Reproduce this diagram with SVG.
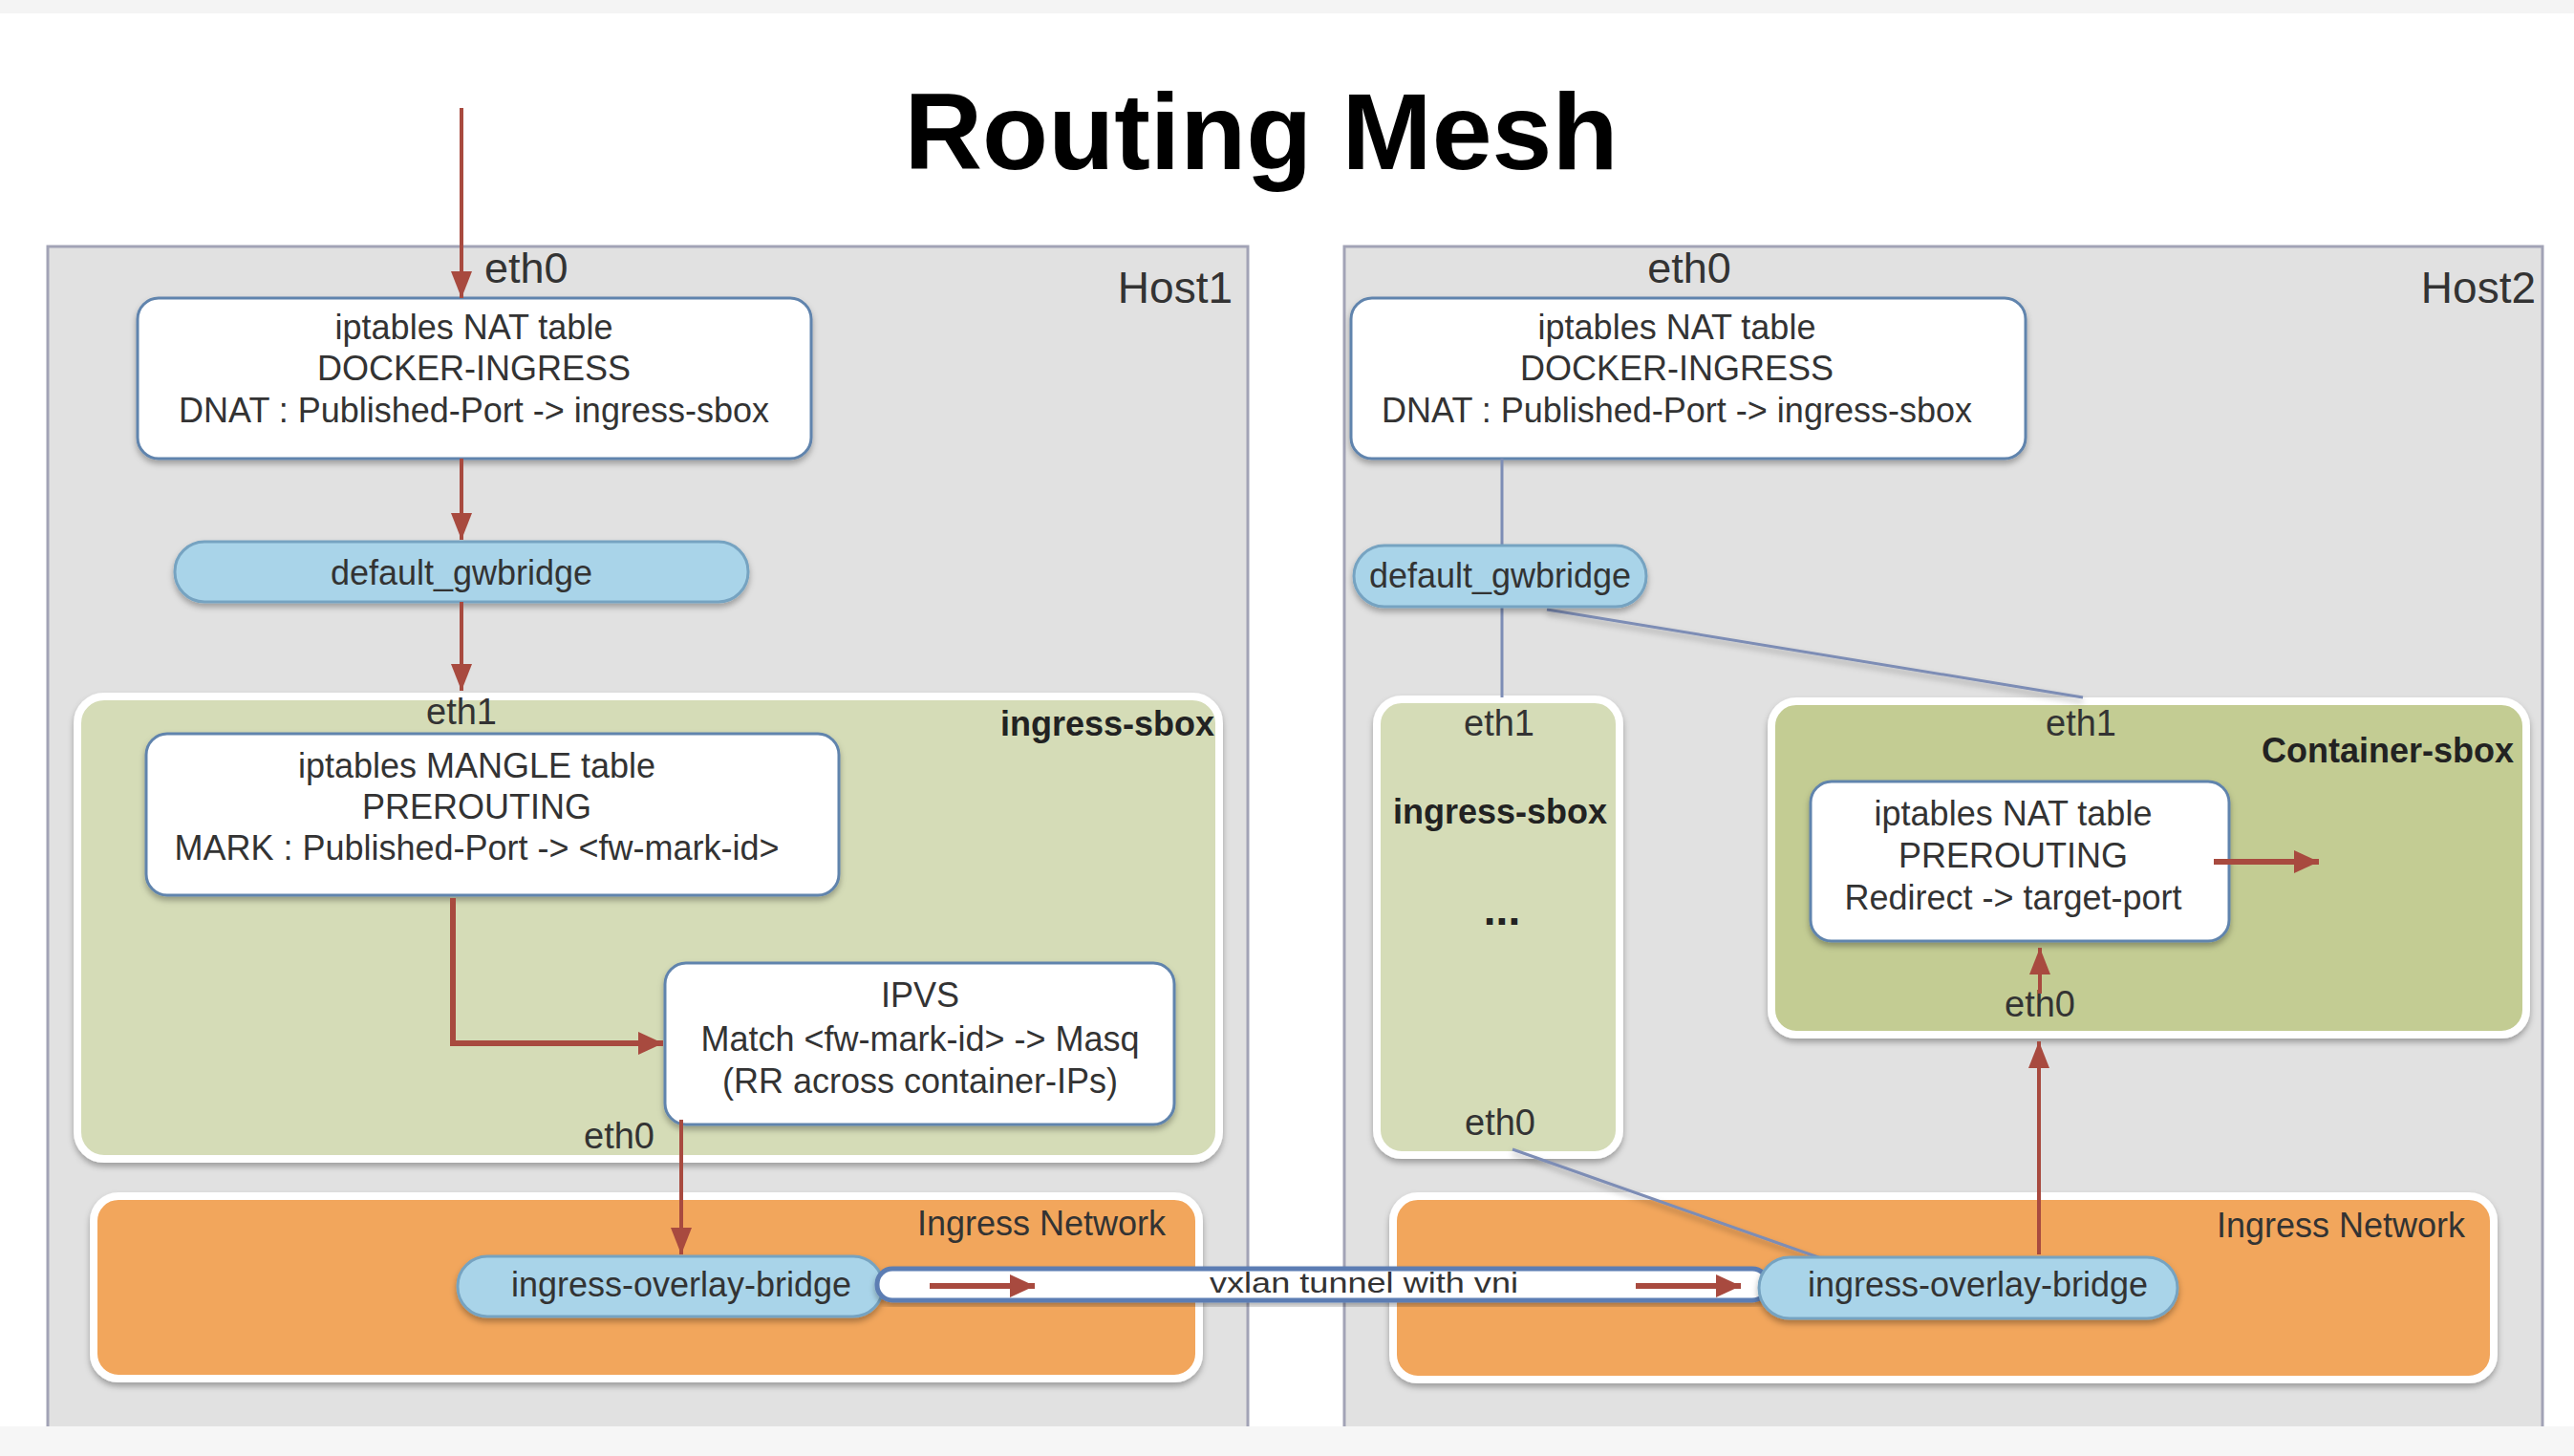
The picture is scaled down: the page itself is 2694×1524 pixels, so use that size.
<svg xmlns="http://www.w3.org/2000/svg" width="2694" height="1524" viewBox="0 0 2694 1524">
<defs>
<style>
.t{font-family:"Liberation Sans",Arial,Helvetica,sans-serif;fill:#333;font-size:36px}
.c{text-anchor:middle}
.r{text-anchor:end}
.b{font-weight:bold;fill:#222}
.host{fill:#e1e1e1;stroke:#a2a3b6;stroke-width:3}
.box{fill:#fff;stroke:#6184ad;stroke-width:3}
.pill{fill:#a9d4e9;stroke:#76a3c1;stroke-width:3}
.sb{fill:#d5dcb7;stroke:#fff;stroke-width:8}
.sb2{fill:#c3cc93;stroke:#fff;stroke-width:8}
.net{fill:#f2a65b;stroke:#fff;stroke-width:8}
.red{fill:none;stroke:#a84a3f;stroke-width:4}
.redw{fill:none;stroke:#a84a3f;stroke-width:6}
.blue{fill:none;stroke:#7d8db5;stroke-width:3}
</style>
<filter id="sh" x="-5%" y="-10%" width="110%" height="130%">
<feDropShadow dx="0" dy="4" stdDeviation="3" flood-color="#000" flood-opacity="0.3"/>
</filter>
<marker id="ah" markerUnits="userSpaceOnUse" markerWidth="30" markerHeight="24" refX="28" refY="11" orient="auto">
<path d="M0,0 L28,11 L0,22 Z" fill="#a84a3f"/>
</marker>
<marker id="ahw" markerUnits="userSpaceOnUse" markerWidth="30" markerHeight="26" refX="26" refY="12" orient="auto">
<path d="M0,0 L26,12 L0,24 Z" fill="#a84a3f"/>
</marker>
</defs>
<rect x="0" y="0" width="2694" height="1524" fill="#ffffff"/>
<rect x="0" y="0" width="2694" height="14" fill="#f4f4f4"/>
<text class="t c b" x="1320" y="177" style="font-size:113px;fill:#000">Routing Mesh</text>

<g id="host1">
<rect class="host" x="50" y="258" width="1256" height="1250"/>
<text class="t r" x="1290" y="317" style="font-size:46px">Host1</text>
<text class="t" x="507" y="296" style="font-size:45px">eth0</text>
</g>
<g id="host2">
<rect class="host" x="1407" y="258" width="1254" height="1250"/>
<text class="t r" x="2654" y="317" style="font-size:46px">Host2</text>
<text class="t c" x="1768" y="296" style="font-size:45px">eth0</text>
</g>

<g id="h1-nat">
<rect class="box" x="144" y="312" width="705" height="168" rx="22" filter="url(#sh)"/>
<text class="t c" x="496" y="355">iptables NAT table</text>
<text class="t c" x="496" y="398">DOCKER-INGRESS</text>
<text class="t c" x="496" y="442">DNAT : Published-Port -&gt; ingress-sbox</text>
</g>
<g id="h1-gwbridge">
<rect class="pill" x="183" y="567" width="600" height="63" rx="31" filter="url(#sh)"/>
<text class="t c" x="483" y="612">default_gwbridge</text>
</g>
<g id="h1-ingress-sbox">
<rect class="sb" x="81" y="729" width="1195" height="484" rx="28" filter="url(#sh)"/>
<text class="t c" x="483" y="758" style="font-size:38px">eth1</text>
<text class="t r b" x="1271" y="770">ingress-sbox</text>
<text class="t c" x="648" y="1202" style="font-size:38px">eth0</text>
</g>
<g id="h1-mangle">
<rect class="box" x="153" y="768" width="725" height="169" rx="22" filter="url(#sh)"/>
<text class="t c" x="499" y="814">iptables MANGLE table</text>
<text class="t c" x="499" y="857">PREROUTING</text>
<text class="t c" x="499" y="900">MARK : Published-Port -&gt; &lt;fw-mark-id&gt;</text>
</g>
<g id="h1-ipvs">
<rect class="box" x="696" y="1008" width="533" height="169" rx="22" filter="url(#sh)"/>
<text class="t c" x="963" y="1054">IPVS</text>
<text class="t c" x="963" y="1100">Match &lt;fw-mark-id&gt; -&gt; Masq</text>
<text class="t c" x="963" y="1144">(RR across container-IPs)</text>
</g>
<g id="h1-ingress-network">
<rect class="net" x="98" y="1252" width="1157" height="191" rx="26" filter="url(#sh)"/>
<text class="t r" x="1220" y="1293">Ingress Network</text>
</g>
<g id="h1-overlay-bridge">
<rect class="pill" x="479" y="1315" width="445" height="63" rx="31" filter="url(#sh)"/>
<text class="t c" x="713" y="1357">ingress-overlay-bridge</text>
</g>

<g id="h2-nat">
<rect class="box" x="1414" y="312" width="706" height="168" rx="22" filter="url(#sh)"/>
<text class="t c" x="1755" y="355">iptables NAT table</text>
<text class="t c" x="1755" y="398">DOCKER-INGRESS</text>
<text class="t c" x="1755" y="442">DNAT : Published-Port -&gt; ingress-sbox</text>
</g>
<g id="h2-ingress-sbox">
<rect class="sb" x="1441" y="732" width="254" height="477" rx="26" filter="url(#sh)"/>
<text class="t c" x="1569" y="770" style="font-size:38px">eth1</text>
<text class="t c b" x="1570" y="862">ingress-sbox</text>
<text class="t c b" x="1572" y="968" style="font-size:46px">...</text>
<text class="t c" x="1570" y="1188" style="font-size:38px">eth0</text>
</g>
<g id="h2-container-sbox">
<rect class="sb2" x="1854" y="734" width="790" height="349" rx="26" filter="url(#sh)"/>
<text class="t c" x="2178" y="770" style="font-size:38px">eth1</text>
<text class="t r b" x="2631" y="798">Container-sbox</text>
<text class="t c" x="2135" y="1064" style="font-size:38px">eth0</text>
</g>
<g id="h2-nat-prerouting">
<rect class="box" x="1895" y="818" width="438" height="167" rx="22" filter="url(#sh)"/>
<text class="t c" x="2107" y="864">iptables NAT table</text>
<text class="t c" x="2107" y="908">PREROUTING</text>
<text class="t c" x="2107" y="952">Redirect -&gt; target-port</text>
</g>
<g id="h2-ingress-network">
<rect class="net" x="1458" y="1252" width="1152" height="192" rx="26" filter="url(#sh)"/>
<text class="t r" x="2580" y="1295">Ingress Network</text>
</g>

<g id="connectors">
<line class="blue" x1="1572" y1="480" x2="1572" y2="730"/>
<line class="blue" x1="1619" y1="638" x2="2180" y2="730" filter="url(#sh)"/>
<line class="blue" x1="1583" y1="1203" x2="1923" y2="1323" filter="url(#sh)"/>
<path class="red" d="M483,113 L483,312" marker-end="url(#ah)"/>
<path class="red" d="M483,480 L483,565" marker-end="url(#ah)"/>
<path class="red" d="M483,630 L483,723" marker-end="url(#ah)"/>
<path class="redw" d="M474,940 L474,1092 L694,1092" marker-end="url(#ahw)"/>
<path class="red" d="M713,1172 L713,1313" marker-end="url(#ah)"/>
<path class="red" d="M2134,1313 L2134,1090" marker-end="url(#ah)"/>
<path class="red" d="M2135,1040 L2135,992" marker-end="url(#ah)"/>
<path class="redw" d="M2317,902 L2427,902" marker-end="url(#ahw)"/>
<g id="vxlan-tunnel">
<rect x="918" y="1328" width="932" height="33" rx="16" fill="#fff" stroke="#5b7db3" stroke-width="5" filter="url(#sh)"/>
<text class="t" x="1266" y="1353" textLength="323" lengthAdjust="spacingAndGlyphs" style="font-size:30px">vxlan tunnel with vni</text>
<path class="redw" d="M973,1346 L1083,1346" marker-end="url(#ahw)"/>
<path class="redw" d="M1712,1346 L1822,1346" marker-end="url(#ahw)"/>
</g>
</g>

<g id="h2-gwbridge">
<rect class="pill" x="1417" y="571" width="306" height="64" rx="32" filter="url(#sh)"/>
<text class="t c" x="1570" y="615">default_gwbridge</text>
</g>
<g id="h2-overlay-bridge">
<rect class="pill" x="1841" y="1316" width="438" height="64" rx="32" filter="url(#sh)"/>
<text class="t c" x="2070" y="1357">ingress-overlay-bridge</text>
</g>
<rect x="0" y="1493" width="2694" height="31" fill="#f6f6f6"/>
</svg>
